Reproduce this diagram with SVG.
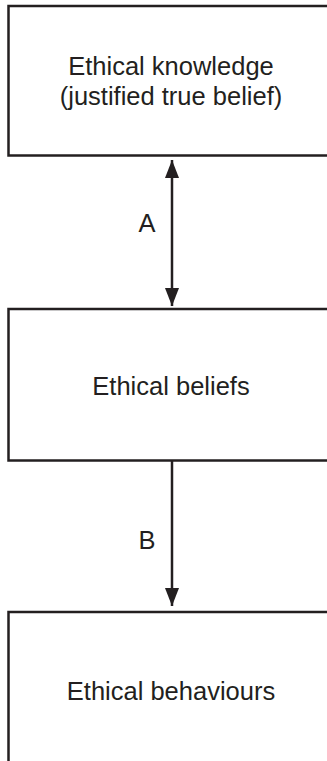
<svg xmlns="http://www.w3.org/2000/svg" width="327" height="761" viewBox="0 0 327 761">
<style>
.box{fill:#ffffff;stroke:#231f20;stroke-width:2.5}
.lbl{font-family:"Liberation Sans",Arial,sans-serif;font-size:25.5px;fill:#231f20;text-anchor:middle}
.con{stroke:#231f20;stroke-width:2.5;fill:none}
</style>
<defs>
<marker id="ah" viewBox="0 0 14 18" refX="14" refY="7" markerWidth="18" markerHeight="14" markerUnits="userSpaceOnUse" orient="auto">
<path d="M0,0 L18,7 L0,14 Z" fill="#231f20"/>
</marker>
<marker id="ahs" viewBox="0 0 18 14" refX="18" refY="7" markerWidth="18" markerHeight="14" markerUnits="userSpaceOnUse" orient="auto-start-reverse">
<path d="M0,0 L18,7 L0,14 Z" fill="#231f20"/>
</marker>
</defs>
<rect width="327" height="761" fill="#ffffff"/>
<g id="node-knowledge">
<rect class="box" x="8.5" y="6" width="340" height="149.5"/>
<text class="lbl" x="171" y="75">Ethical knowledge</text>
<text class="lbl" x="171" y="105">(justified true belief)</text>
</g>
<g id="node-beliefs">
<rect class="box" x="8.5" y="309" width="340" height="151.5"/>
<text class="lbl" x="171" y="395">Ethical beliefs</text>
</g>
<g id="node-behaviours">
<rect class="box" x="8.5" y="612" width="340" height="170"/>
<text class="lbl" x="171" y="700">Ethical behaviours</text>
</g>
<g id="connectors">
<line class="con" x1="172" y1="160" x2="172" y2="306" marker-start="url(#ahs)" marker-end="url(#ahs)"/>
<text class="lbl" x="147" y="232">A</text>
<line class="con" x1="172" y1="460.5" x2="172" y2="606" marker-end="url(#ahs)"/>
<text class="lbl" x="147" y="549">B</text>
</g>
</svg>
